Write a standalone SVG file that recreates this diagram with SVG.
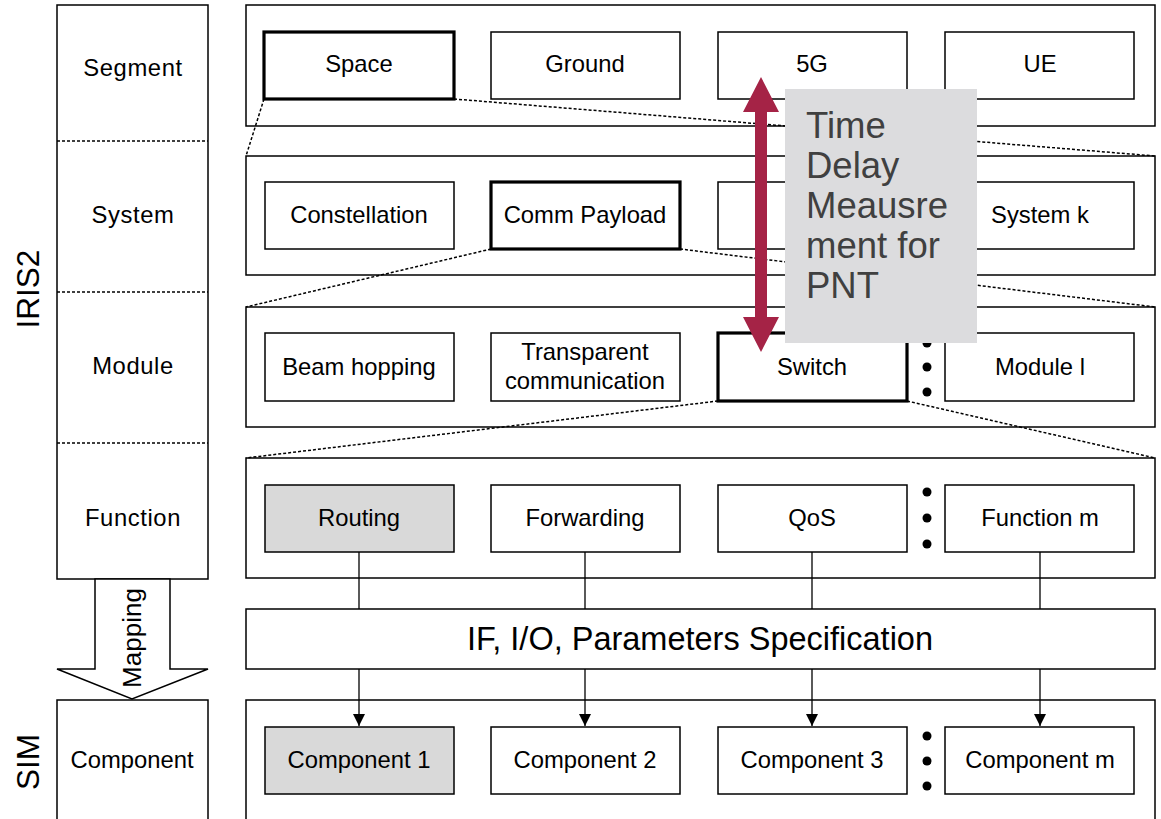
<svg xmlns="http://www.w3.org/2000/svg" width="1161" height="819" viewBox="0 0 1161 819">
<style>
.t{font-family:"Liberation Sans",Arial,sans-serif;font-size:23.8px;fill:#000;text-anchor:middle}
.box{fill:#fff;stroke:#000;stroke-width:1.5}
.bold{fill:#fff;stroke:#000;stroke-width:3.2}
.grey{fill:#d9d9d9;stroke:#000;stroke-width:1.5}
.dash{stroke:#000;stroke-width:1.5;stroke-dasharray:3 2;fill:none}
.ln{stroke:#000;stroke-width:1.3;fill:none}
.dot{fill:#000}
.big{font-family:"Liberation Sans",Arial,sans-serif;font-size:31.5px;fill:#000;text-anchor:middle}
</style>
<defs>
<marker id="ah" markerWidth="12" markerHeight="12" refX="10" refY="5" orient="auto" markerUnits="userSpaceOnUse" viewBox="0 0 10 10">
<path d="M0,0 L10,5 L0,10 Z" fill="#000"/>
</marker>
</defs>
<rect width="1161" height="819" fill="#fff"/>

<g id="left-column">
<rect class="box" x="57" y="5" width="151" height="574"/>
<line class="dash" x1="57" y1="141" x2="208" y2="141"/>
<line class="dash" x1="57" y1="292" x2="208" y2="292"/>
<line class="dash" x1="57" y1="443" x2="208" y2="443"/>
<text class="t" x="133" y="76" style="letter-spacing:0.6px">Segment</text>
<text class="t" x="133" y="223" style="letter-spacing:0.6px">System</text>
<text class="t" x="133" y="374" style="letter-spacing:0.6px">Module</text>
<text class="t" x="133" y="526" style="letter-spacing:0.6px">Function</text>
<text class="big" x="39" y="289" transform="rotate(-90 39 289)">IRIS2</text>
</g>

<g id="mapping-arrow">
<polygon class="box" points="95,579 95,669 57,669 132,699 208,669 170,669 170,579"/>
<text class="t" x="141" y="638" transform="rotate(-90 141 638)" style="font-size:26px">Mapping</text>
</g>

<g id="component-label">
<rect class="box" x="57" y="700" width="151" height="125"/>
<text class="t" x="132" y="768">Component</text>
<text class="big" x="39" y="762" transform="rotate(-90 39 762)">SIM</text>
</g>

<g id="connectors">
<line class="dash" x1="264" y1="99" x2="246" y2="156"/>
<line class="dash" x1="454" y1="99" x2="1155" y2="156"/>
<line class="dash" x1="491" y1="249" x2="246" y2="307"/>
<line class="dash" x1="680" y1="249" x2="1155" y2="307"/>
<line class="dash" x1="718" y1="401" x2="246" y2="458"/>
<line class="dash" x1="907" y1="401" x2="1155" y2="458"/>
<line class="ln" x1="359" y1="552" x2="359" y2="609"/>
<line class="ln" x1="585" y1="552" x2="585" y2="609"/>
<line class="ln" x1="812" y1="552" x2="812" y2="609"/>
<line class="ln" x1="1040" y1="552" x2="1040" y2="609"/>
<line class="ln" x1="359" y1="669" x2="359" y2="726" marker-end="url(#ah)"/>
<line class="ln" x1="585" y1="669" x2="585" y2="726" marker-end="url(#ah)"/>
<line class="ln" x1="812" y1="669" x2="812" y2="726" marker-end="url(#ah)"/>
<line class="ln" x1="1040" y1="669" x2="1040" y2="726" marker-end="url(#ah)"/>
</g>

<g id="segment-panel">
<rect class="box" x="246" y="5" width="909" height="121" style="fill:none"/>
<g id="space"><rect class="bold" x="264" y="32" width="190" height="67"/><text class="t" x="359" y="72">Space</text></g>
<g id="ground"><rect class="box" x="491" y="32" width="189" height="67"/><text class="t" x="585" y="72">Ground</text></g>
<g id="g5"><rect class="box" x="718" y="32" width="189" height="67"/><text class="t" x="812" y="72">5G</text></g>
<g id="ue"><rect class="box" x="945" y="32" width="189" height="67"/><text class="t" x="1040" y="72">UE</text></g>
</g>

<g id="system-panel">
<rect class="box" x="246" y="156" width="909" height="119" style="fill:none"/>
<g id="constellation"><rect class="box" x="265" y="182" width="189" height="67"/><text class="t" x="359" y="223">Constellation</text></g>
<g id="comm-payload"><rect class="bold" x="491" y="182" width="189" height="67"/><text class="t" x="585" y="223">Comm Payload</text></g>
<g id="system-j"><rect class="box" x="718" y="182" width="189" height="67"/></g>
<g id="system-k"><rect class="box" x="945" y="182" width="189" height="67"/><text class="t" x="1040" y="223">System k</text></g>
</g>

<g id="module-panel">
<rect class="box" x="246" y="307" width="909" height="120" style="fill:none"/>
<g id="beam-hopping"><rect class="box" x="265" y="333" width="189" height="68"/><text class="t" x="359" y="375">Beam hopping</text></g>
<g id="transparent"><rect class="box" x="491" y="333" width="189" height="68"/><text class="t" x="585" y="360">Transparent</text><text class="t" x="585" y="389">communication</text></g>
<g id="switch"><rect class="bold" x="718" y="333" width="189" height="68"/><text class="t" x="812" y="375">Switch</text></g>
<g id="module-l"><rect class="box" x="945" y="333" width="189" height="68"/><text class="t" x="1040" y="375">Module l</text></g>
<circle class="dot" cx="927" cy="343" r="4.5"/><circle class="dot" cx="927" cy="367" r="4.5"/><circle class="dot" cx="927" cy="392" r="4.5"/>
</g>

<g id="function-panel">
<rect class="box" x="246" y="458" width="909" height="120" style="fill:none"/>
<g id="routing"><rect class="grey" x="265" y="485" width="189" height="67"/><text class="t" x="359" y="526">Routing</text></g>
<g id="forwarding"><rect class="box" x="491" y="485" width="189" height="67"/><text class="t" x="585" y="526">Forwarding</text></g>
<g id="qos"><rect class="box" x="718" y="485" width="189" height="67"/><text class="t" x="812" y="526">QoS</text></g>
<g id="function-m"><rect class="box" x="945" y="485" width="189" height="67"/><text class="t" x="1040" y="526">Function m</text></g>
<circle class="dot" cx="927" cy="492" r="4.5"/><circle class="dot" cx="927" cy="518" r="4.5"/><circle class="dot" cx="927" cy="544" r="4.5"/>
</g>

<g id="if-spec">
<rect class="box" x="246" y="609" width="909" height="60"/>
<text class="t" x="700" y="650" style="font-size:32.5px">IF, I/O, Parameters Specification</text>
</g>

<g id="component-panel">
<rect class="box" x="246" y="700" width="909" height="125" style="fill:none"/>
<g id="component-1"><rect class="grey" x="265" y="727" width="189" height="67"/><text class="t" x="359" y="768">Component 1</text></g>
<g id="component-2"><rect class="box" x="491" y="727" width="189" height="67"/><text class="t" x="585" y="768">Component 2</text></g>
<g id="component-3"><rect class="box" x="718" y="727" width="189" height="67"/><text class="t" x="812" y="768">Component 3</text></g>
<g id="component-m"><rect class="box" x="945" y="727" width="189" height="67"/><text class="t" x="1040" y="768">Component m</text></g>
<circle class="dot" cx="927" cy="736" r="4.5"/><circle class="dot" cx="927" cy="761" r="4.5"/><circle class="dot" cx="927" cy="786" r="4.5"/>
</g>

<g id="pnt-note">
<rect x="785" y="89" width="192" height="254" fill="#dcdcde"/>
<text font-family="Liberation Sans, Arial, sans-serif" font-size="36.5" fill="#404040">
<tspan x="806" y="138">Time</tspan>
<tspan x="806" y="178">Delay</tspan>
<tspan x="806" y="218">Meausre</tspan>
<tspan x="806" y="258">ment for</tspan>
<tspan x="806" y="298">PNT</tspan>
</text>
</g>

<g id="pnt-arrow">
<polygon fill="#a52346" points="761,77 779,112 767,112 767,317 779,317 761,352 743,317 755,317 755,112 743,112"/>
</g>
</svg>
